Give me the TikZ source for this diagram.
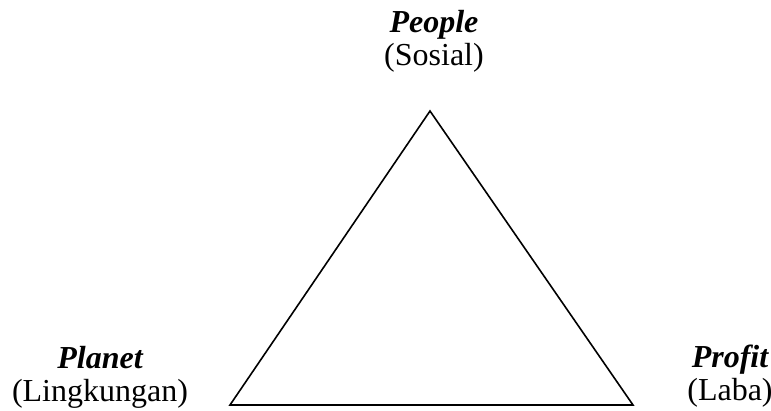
\documentclass[tikz,border=0pt]{standalone}
\usepackage{fontspec}
\setmainfont{Liberation Serif}
\usetikzlibrary{positioning}
\tikzset{
  pillar/.style={font=\fontsize{16}{19}\selectfont\bfseries\itshape, anchor=base, inner sep=0pt},
  aspect/.style={font=\fontsize{16}{19}\selectfont, anchor=base, inner sep=0pt},
  side/.style={line width=0.8pt}
}
\begin{document}
\begin{tikzpicture}[x=0.5pt, y=-0.5pt]
    \useasboundingbox (0,0) rectangle (771,411);
    % corners of the triangle
    \coordinate (top) at (430,111);
    \coordinate (left) at (230,405);
    \coordinate (right) at (633,405);
    \draw [side] (top) -- (left) -- (right) -- cycle;
    % labels
    \node (people) [pillar] at (434,33) {People};
    \node (sosial) [aspect] at (434,66) {(Sosial)};
    \node (planet) [pillar] at (100,368) {Planet};
    \node (lingkungan) [aspect] at (100,401) {(Lingkungan)};
    \node (profit) [pillar] at (730,367) {Profit};
    \node (laba) [aspect] at (730,400) {(Laba)};
\end{tikzpicture}
\end{document}
